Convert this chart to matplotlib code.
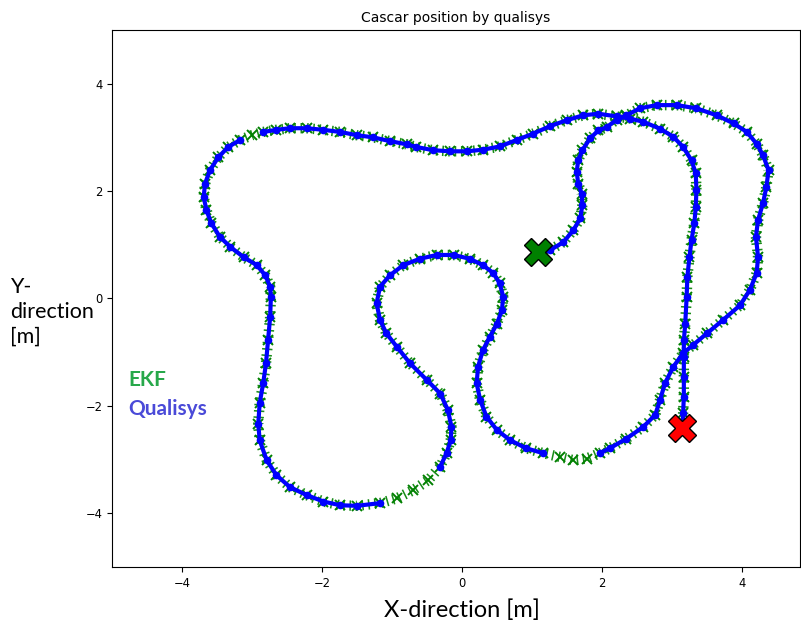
"""Cascar track: EKF estimate vs Qualisys position."""

import matplotlib

matplotlib.use("Agg")
import matplotlib.pyplot as plt
import numpy as np

# track, in metres (start -> end)
ekf_x = [
    1.09, 1.26, 1.45, 1.59, 1.69, 1.72, 1.71, 1.66, 1.64, 1.66,
    1.72, 1.83, 1.95, 2.07, 2.21, 2.35, 2.54, 2.78, 3.07, 3.35,
    3.64, 3.88, 4.07, 4.21, 4.30, 4.38, 4.35, 4.30, 4.23, 4.20,
    4.23, 4.21, 4.11, 3.97, 3.73, 3.50, 3.30, 3.16, 3.02, 2.90,
    2.83, 2.76, 2.59, 2.35, 2.11, 1.97, 1.78, 1.59, 1.40, 1.16,
    0.92, 0.69, 0.50, 0.35, 0.26, 0.21, 0.23, 0.30, 0.40, 0.50,
    0.57, 0.59, 0.54, 0.45, 0.30, 0.11, -0.12, -0.36, -0.60, -0.84,
    -1.03, -1.17, -1.22, -1.17, -1.08, -0.93, -0.74, -0.50, -0.31, -0.20,
    -0.15, -0.16, -0.22, -0.31, -0.48, -0.70, -0.93, -1.17, -1.50, -1.74,
    -1.98, -2.22, -2.46, -2.65, -2.79, -2.89, -2.91, -2.89, -2.84, -2.80,
    -2.77, -2.74, -2.73, -2.74, -2.81, -2.93, -3.12, -3.31, -3.46, -3.58,
    -3.65, -3.69, -3.67, -3.60, -3.48, -3.34, -3.17, -3.00, -2.84, -2.65,
    -2.46, -2.22, -1.98, -1.74, -1.50, -1.27, -1.03, -0.79, -0.65, -0.41,
    -0.17, 0.07, 0.30, 0.54, 0.78, 1.02, 1.26, 1.50, 1.73, 1.95,
    2.21, 2.40, 2.59, 2.83, 3.02, 3.16, 3.28, 3.34, 3.35, 3.34,
    3.32, 3.28, 3.25, 3.22, 3.21, 3.19, 3.17, 3.17, 3.17, 3.17,
    3.16, 3.15,
]
ekf_y = [
    0.86, 0.90, 1.05, 1.27, 1.49, 1.74, 1.95, 2.14, 2.36, 2.57,
    2.76, 2.98, 3.13, 3.19, 3.33, 3.41, 3.54, 3.60, 3.60, 3.54,
    3.41, 3.26, 3.10, 2.88, 2.67, 2.39, 2.08, 1.77, 1.46, 1.15,
    0.77, 0.47, 0.15, -0.13, -0.40, -0.65, -0.87, -1.02, -1.27, -1.58,
    -1.89, -2.17, -2.39, -2.61, -2.79, -2.88, -2.98, -3.01, -2.95, -2.88,
    -2.79, -2.64, -2.45, -2.20, -1.89, -1.58, -1.27, -0.96, -0.71, -0.47,
    -0.22, 0.03, 0.28, 0.47, 0.62, 0.74, 0.81, 0.81, 0.74, 0.62,
    0.43, 0.22, -0.09, -0.40, -0.65, -0.90, -1.21, -1.52, -1.77, -2.08,
    -2.39, -2.64, -2.88, -3.13, -3.38, -3.57, -3.72, -3.81, -3.86, -3.85,
    -3.78, -3.66, -3.51, -3.29, -3.01, -2.64, -2.33, -1.95, -1.58, -1.21,
    -0.78, -0.34, 0.03, 0.22, 0.43, 0.62, 0.77, 0.96, 1.15, 1.40,
    1.64, 1.89, 2.14, 2.39, 2.63, 2.82, 2.95, 3.04, 3.10, 3.14,
    3.17, 3.17, 3.14, 3.10, 3.04, 3.00, 2.93, 2.87, 2.82, 2.76,
    2.74, 2.74, 2.77, 2.83, 2.95, 3.07, 3.21, 3.32, 3.41, 3.44,
    3.39, 3.35, 3.29, 3.16, 3.01, 2.82, 2.57, 2.33, 2.02, 1.70,
    1.40, 1.09, 0.77, 0.40, 0.03, -0.47, -0.78, -1.09, -1.46, -1.83,
    -2.14, -2.42,
]
# samples where the Qualisys system lost the car
qualisys_missing = [46, 47, 48, 84, 85, 86, 117]

x_ticks = [-4, -2, 0, 2, 4]
y_ticks = [-4, -2, 0, 2, 4]

qual_x = np.array(ekf_x, dtype=float)
qual_y = np.array(ekf_y, dtype=float)
qual_x[qualisys_missing] = np.nan
qual_y[qualisys_missing] = np.nan

fig = plt.figure(figsize=(8.01, 6.26), dpi=100)
ax = fig.add_axes([0.1398, 0.0942, 0.859, 0.858])

# EKF: green crosses
ax.plot(ekf_x, ekf_y, color="green", lw=7.5, ls=(0, (0.15, 0.45)), alpha=0.9)
ax.plot(ekf_x, ekf_y, "x", color="green", ms=7, mew=1.4)
# Qualisys: blue dotted line
ax.plot(qual_x, qual_y, "-", color="blue", lw=3.0, marker="o", ms=4.5)

ax.plot(ekf_x[0], ekf_y[0], marker="X", ms=20, color="green", mec="black", mew=1)
ax.plot(ekf_x[-1], ekf_y[-1], marker="X", ms=20, color="red", mec="black", mew=1)

ax.set_xlim(-5, 4.83)
ax.set_ylim(-5, 5)
ax.set_xticks(x_ticks)
ax.set_yticks(y_ticks)
ax.tick_params(labelsize=8.3)
ax.set_title("Cascar position by qualisys", fontsize=10)

fig.text(462 / 801, 1 - 610 / 626, "X-direction [m]", ha="center", va="center",
         fontsize=17, family="Lato")
fig.text(10 / 801, 1 - 312 / 626, "Y-\ndirection\n[m]", ha="left", va="center",
         fontsize=15.5, family="Lato", linespacing=1.3)
fig.text(128 / 801, 1 - 380 / 626, "EKF", ha="left", va="center", fontsize=15,
         family="Lato", fontweight="bold", color="#27a84a")
fig.text(128 / 801, 1 - 409 / 626, "Qualisys", ha="left", va="center", fontsize=15,
         family="Lato", fontweight="bold", color="#4a4ad8")

fig.savefig("out.png", dpi=100)
